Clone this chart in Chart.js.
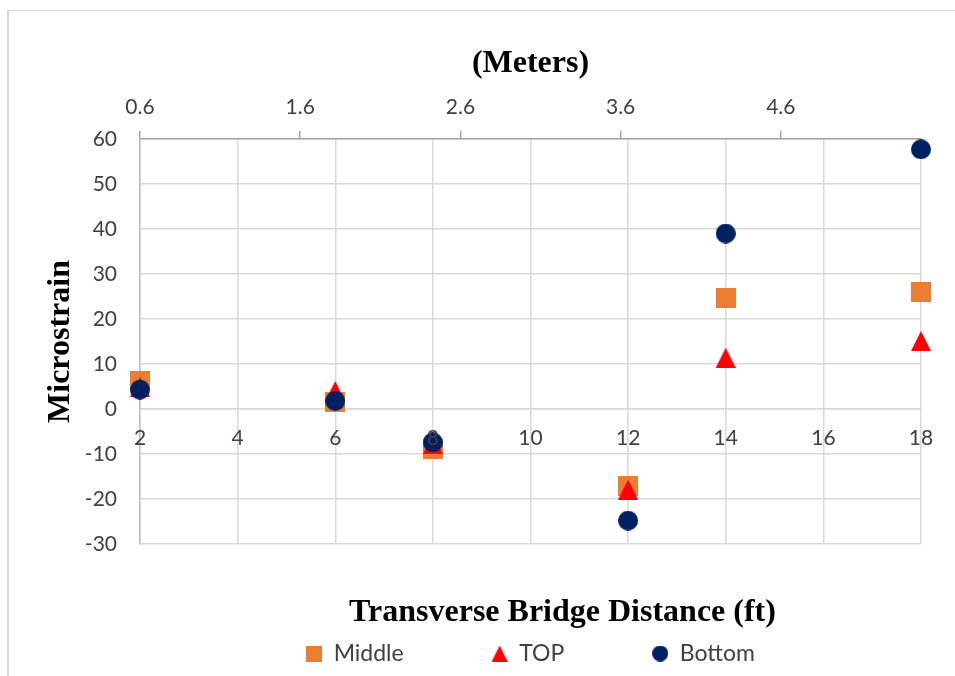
<!DOCTYPE html>
<html>
<head>
<meta charset="utf-8">
<title>Microstrain vs transverse distance</title>
<script src="https://cdn.jsdelivr.net/npm/chart.js@4.4.1/dist/chart.umd.min.js"></script>
<style>
    html, body { margin: 0; padding: 0; background: #fff; overflow: hidden; }
    #frame {
        position: absolute; left: 7px; top: 10px; width: 980px; height: 700px;
        border-left: 2px solid #d9d9d9; border-top: 1px solid #d9d9d9;
    }
    #chart { position: absolute; left: 0; top: 0; }
</style>
</head>
<body>
<div id="frame"></div>
<canvas id="chart" width="955" height="676"></canvas>
<script>
// == DATA == //
const distanceFt = [2, 6, 8, 12, 14, 18];
const middleStrain = [6.2, 1.5, -8.9, -17.2, 24.6, 26.0];
const topStrain = [4.9, 4.0, -7.8, -17.9, 11.4, 15.1];
const bottomStrain = [4.3, 1.8, -7.4, -24.8, 39.0, 57.7];
const meterTicks = [0.6, 1.6, 2.6, 3.6, 4.6];
const seriesNames = ["Middle", "TOP", "Bottom"];

const xTitle = "Transverse Bridge Distance (ft)";
const x2Title = "(Meters)";
const yTitle = "Microstrain";

const colors = { middle: "#ED7D31", top: "#FF0000", bottom: "#002060" };
const tickFont = { family: "Lato", size: 21 };
const titleFont = { family: "Liberation Serif", size: 32, weight: "bold" };

// small canvas used as a marker (Excel style square / triangle / circle)
function marker(shape, size, color) {
    const c = document.createElement("canvas");
    c.width = size;
    c.height = size;
    const g = c.getContext("2d");
    g.fillStyle = color;
    g.beginPath();
    if (shape === "rect") g.rect(0, 0, size, size);
    else if (shape === "triangle") {
        g.moveTo(size / 2, 0);
        g.lineTo(size, size);
        g.lineTo(0, size);
        g.closePath();
    } else g.arc(size / 2, size / 2, size / 2, 0, Math.PI * 2);
    g.fill();
    return c;
}

const legendMarkers = [
    marker("rect", 16, colors.middle),
    marker("triangle", 16, colors.top),
    marker("circle", 16, colors.bottom)
];

const toPoints = ys => distanceFt.map((x, i) => ({ x: x, y: ys[i] }));

// bottom axis title sits between the plot and the legend
const bottomTitle = {
    id: "bottomTitle",
    afterDraw(chart) {
        const { ctx, chartArea } = chart;
        ctx.save();
        ctx.font = `bold ${titleFont.size}px "${titleFont.family}"`;
        ctx.fillStyle = "#000";
        ctx.textAlign = "center";
        ctx.textBaseline = "middle";
        ctx.fillText(xTitle, (chartArea.left + chartArea.right) / 2 + 32, chartArea.bottom + 69);
        ctx.restore();
    }
};

new Chart(document.getElementById("chart"), {
    type: "scatter",
    data: {
        datasets: [
            { label: seriesNames[0], data: toPoints(middleStrain), pointStyle: marker("rect", 20, colors.middle), order: 3, clip: false },
            { label: seriesNames[1], data: toPoints(topStrain), pointStyle: marker("triangle", 20, colors.top), order: 2, clip: false },
            { label: seriesNames[2], data: toPoints(bottomStrain), pointStyle: marker("circle", 20, colors.bottom), order: 1, clip: false }
        ]
    },
    options: {
        responsive: false,
        animation: false,
        devicePixelRatio: 1,
        layout: { padding: { left: 0, top: 0, right: 34, bottom: 1 } },
        scales: {
            x: {
                type: "linear",
                position: { y: 0 },
                min: 2,
                max: 18,
                ticks: { stepSize: 2, font: tickFont, color: "#404040", padding: 17, z: 1 },
                grid: { color: "#d9d9d9", lineWidth: 1.5, drawTicks: false },
                border: { color: "#d9d9d9", width: 1.5 }
            },
            x2: {
                type: "linear",
                position: "top",
                min: 0.6,
                max: 5.475,
                afterBuildTicks: scale => { scale.ticks = meterTicks.map(v => ({ value: v })); },
                afterFit: scale => { scale.height = 139; },
                ticks: { font: tickFont, color: "#404040", padding: 11, callback: v => v.toFixed(1) },
                grid: { drawOnChartArea: false, tickLength: 8, color: "#a6a6a6", lineWidth: 1.5 },
                border: { color: "#a6a6a6", width: 1.5 },
                title: { display: true, text: x2Title, font: titleFont, color: "#000", padding: { top: 45, bottom: 0 } }
            },
            y: {
                min: -30,
                max: 60,
                afterFit: scale => { scale.width = 140; },
                ticks: { stepSize: 10, font: tickFont, color: "#404040", padding: 23 },
                grid: { color: "#d9d9d9", lineWidth: 1.5, drawTicks: false },
                border: { color: "#bfbfbf", width: 1.5 },
                title: { display: true, text: yTitle, font: titleFont, color: "#000", padding: { top: 42, bottom: 0 } }
            }
        },
        plugins: {
            tooltip: { enabled: false },
            legend: {
                position: "bottom",
                fullSize: false,
                // empty title only as a spacer so the legend row sits under the axis title
                title: { display: true, text: "", padding: 0, font: { size: 8, lineHeight: 1.25 } },
                labels: {
                    usePointStyle: true,
                    boxWidth: 16,
                    boxHeight: 16,
                    padding: 88,
                    color: "#404040",
                    font: { family: "Lato", size: 23 },
                    generateLabels(chart) {
                        const items = Chart.defaults.plugins.legend.labels.generateLabels(chart);
                        items.forEach(it => { it.pointStyle = legendMarkers[it.datasetIndex]; });
                        return items.sort((a, b) => a.datasetIndex - b.datasetIndex);
                    }
                }
            }
        }
    },
    plugins: [bottomTitle]
});
</script>
</body>
</html>
